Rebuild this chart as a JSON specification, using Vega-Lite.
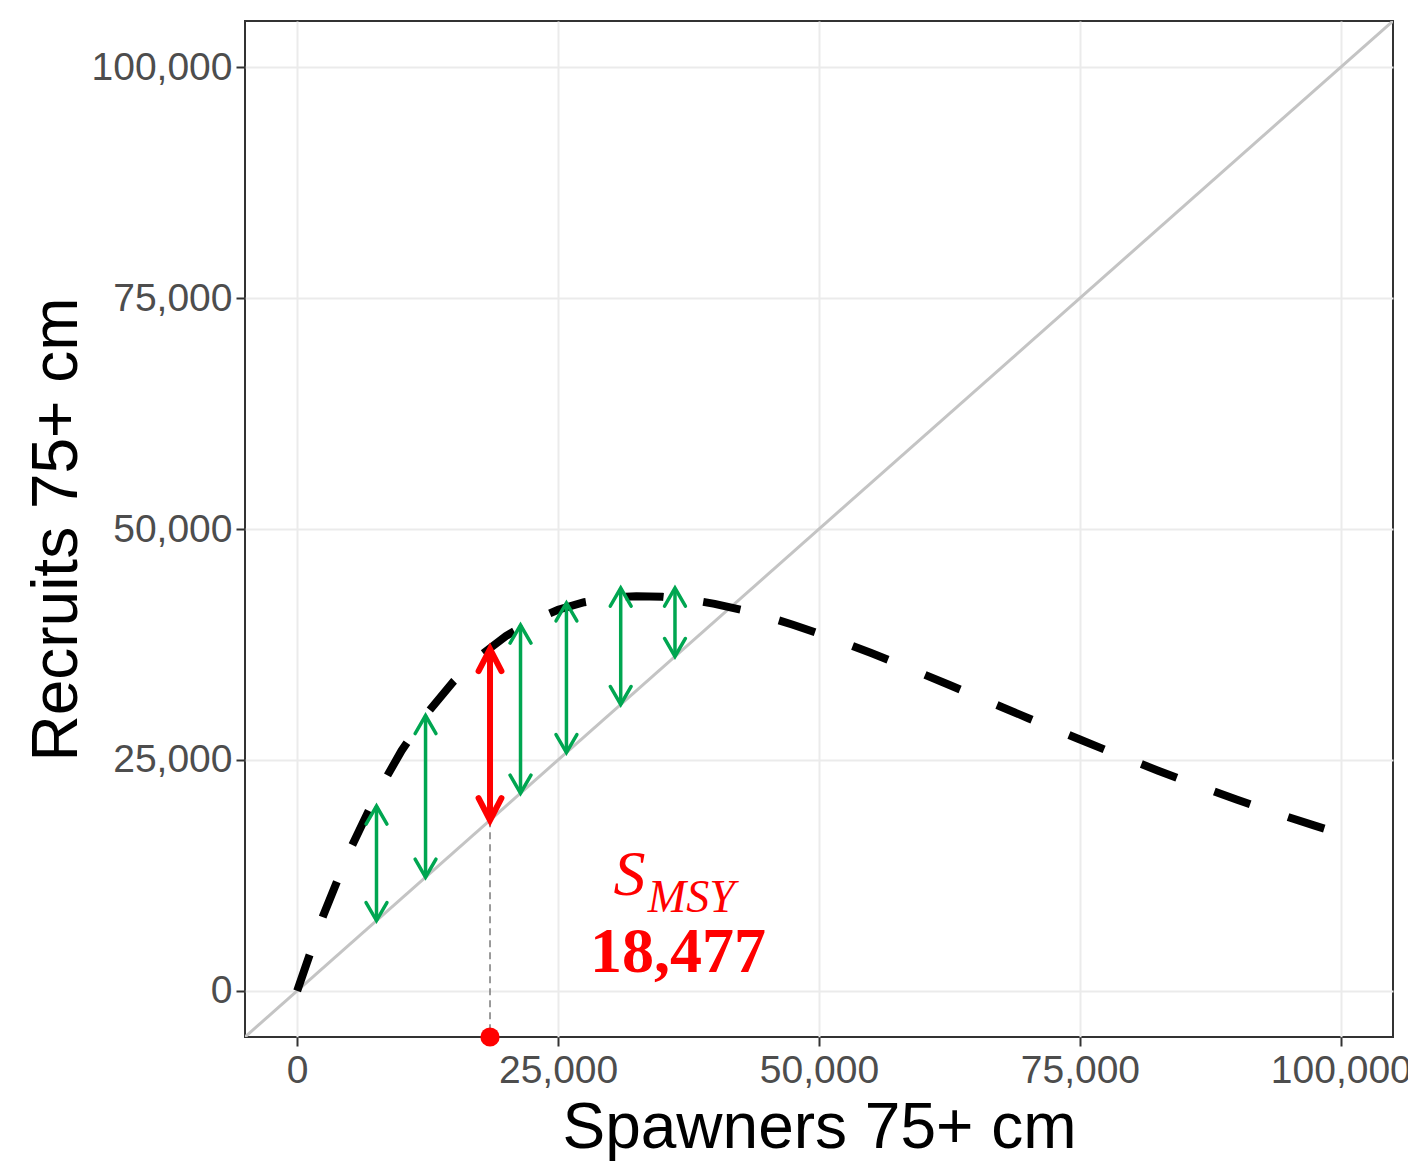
{
  "$schema": "https://vega.github.io/schema/vega-lite/v6.json",
  "width": 1148,
  "height": 1016,
  "autosize": {"type": "none"},
  "padding": {"left": 245, "top": 21, "right": 15, "bottom": 126},
  "background": "white",
  "config": {
    "view": {"stroke": "#333333", "strokeWidth": 2, "fill": "white"},
    "axis": {
      "grid": true,
      "gridColor": "#ebebeb",
      "gridWidth": 2,
      "domain": false,
      "tickColor": "#333333",
      "tickWidth": 2,
      "tickSize": 9,
      "labelFont": "Liberation Sans",
      "labelFontSize": 39,
      "labelColor": "#4d4d4d",
      "labelFlush": false,
      "labelOverlap": false,
      "titleFont": "Liberation Sans",
      "titleFontSize": 64,
      "titleFontWeight": "normal",
      "titleColor": "#000000"
    },
    "axisX": {"labelPadding": 5, "titlePadding": 6},
    "axisY": {"labelPadding": 4, "titlePadding": 2}
  },
  "datasets": {
    "replacement": [
      {"S": -5000, "R": -5000},
      {"S": 105000, "R": 105000}
    ],
    "ricker": [
      {"S": 0, "R": 0},
      {"S": 2500, "R": 8158},
      {"S": 5000, "R": 15125},
      {"S": 7500, "R": 21033},
      {"S": 10000, "R": 25999},
      {"S": 12500, "R": 30128},
      {"S": 15000, "R": 33515},
      {"S": 17500, "R": 36249},
      {"S": 20000, "R": 38402},
      {"S": 22500, "R": 40051},
      {"S": 25000, "R": 41255},
      {"S": 27500, "R": 42069},
      {"S": 30000, "R": 42545},
      {"S": 32500, "R": 42728},
      {"S": 35000, "R": 42658},
      {"S": 37500, "R": 42369},
      {"S": 40000, "R": 41898},
      {"S": 42500, "R": 41269},
      {"S": 45000, "R": 40508},
      {"S": 47500, "R": 39640},
      {"S": 50000, "R": 38681},
      {"S": 52500, "R": 37653},
      {"S": 55000, "R": 36567},
      {"S": 57500, "R": 35440},
      {"S": 60000, "R": 34284},
      {"S": 62500, "R": 33108},
      {"S": 65000, "R": 31920},
      {"S": 67500, "R": 30729},
      {"S": 70000, "R": 29543},
      {"S": 72500, "R": 28365},
      {"S": 75000, "R": 27203},
      {"S": 77500, "R": 26058},
      {"S": 80000, "R": 24938},
      {"S": 82500, "R": 23836},
      {"S": 85000, "R": 22769},
      {"S": 87500, "R": 21729},
      {"S": 90000, "R": 20719},
      {"S": 92500, "R": 19741},
      {"S": 95000, "R": 18797},
      {"S": 97500, "R": 17884},
      {"S": 100000, "R": 17005}
    ],
    "surplus": [
      {"S": 7600, "R": 20000},
      {"S": 12300, "R": 29800},
      {"S": 21400, "R": 39600},
      {"S": 25800, "R": 42000},
      {"S": 31000, "R": 43600},
      {"S": 36200, "R": 43600}
    ],
    "smsy": [
      {"S": 18477, "R": 37000}
    ]
  },
  "encoding": {
    "x": {
      "field": "S",
      "type": "quantitative",
      "title": "Spawners 75+ cm",
      "scale": {"domain": [-5000, 105000], "nice": false, "zero": false},
      "axis": {"values": [0, 25000, 50000, 75000, 100000], "format": ",.0f"}
    }
  },
  "layer": [
    {
      "data": {"name": "replacement"},
      "mark": {"type": "line", "color": "#c4c4c4", "strokeWidth": 3, "clip": true},
      "encoding": {
        "y": {
          "field": "R",
          "type": "quantitative",
          "title": "Recruits 75+ cm",
          "scale": {"domain": [-5000, 105000], "nice": false, "zero": false},
          "axis": {"values": [0, 25000, 50000, 75000, 100000], "format": ",.0f"}
        }
      }
    },
    {
      "data": {"name": "ricker"},
      "mark": {"type": "line", "color": "#000000", "strokeWidth": 8, "strokeDash": [38, 40], "strokeCap": "butt"},
      "encoding": {
        "y": {"field": "R", "type": "quantitative", "title": "Recruits 75+ cm"}
      }
    },
    {
      "data": {"name": "smsy"},
      "mark": {"type": "rule", "color": "#7a7a7a", "strokeWidth": 1.5, "strokeDash": [7, 5]},
      "encoding": {
        "y": {"field": "S", "type": "quantitative", "title": "Recruits 75+ cm"},
        "y2": {"datum": -5000}
      }
    },
    {
      "data": {"name": "surplus"},
      "mark": {"type": "rule", "color": "#00a651", "strokeWidth": 3.5},
      "encoding": {
        "y": {"field": "R", "type": "quantitative", "title": "Recruits 75+ cm"},
        "y2": {"field": "S"}
      }
    },
    {
      "data": {"name": "surplus"},
      "mark": {"type": "point", "shape": "M-0.58,1L0,0L0.58,1", "filled": false, "size": 1296, "strokeWidth": 3.5, "color": "#00a651", "opacity": 1, "strokeCap": "round"},
      "encoding": {
        "y": {"field": "R", "type": "quantitative", "title": "Recruits 75+ cm"}
      }
    },
    {
      "data": {"name": "surplus"},
      "mark": {"type": "point", "shape": "M-0.58,-1L0,0L0.58,-1", "filled": false, "size": 1296, "strokeWidth": 3.5, "color": "#00a651", "opacity": 1, "strokeCap": "round"},
      "encoding": {
        "y": {"field": "S", "type": "quantitative", "title": "Recruits 75+ cm"}
      }
    },
    {
      "data": {"name": "smsy"},
      "mark": {"type": "rule", "color": "#ff0000", "strokeWidth": 6},
      "encoding": {
        "y": {"field": "R", "type": "quantitative", "title": "Recruits 75+ cm"},
        "y2": {"field": "S"}
      }
    },
    {
      "data": {"name": "smsy"},
      "mark": {"type": "point", "shape": "M-0.52,1L0,0L0.52,1", "filled": false, "size": 1936, "strokeWidth": 6, "color": "#ff0000", "opacity": 1, "strokeCap": "round"},
      "encoding": {
        "y": {"field": "R", "type": "quantitative", "title": "Recruits 75+ cm"}
      }
    },
    {
      "data": {"name": "smsy"},
      "mark": {"type": "point", "shape": "M-0.52,-1L0,0L0.52,-1", "filled": false, "size": 1936, "strokeWidth": 6, "color": "#ff0000", "opacity": 1, "strokeCap": "round"},
      "encoding": {
        "y": {"field": "S", "type": "quantitative", "title": "Recruits 75+ cm"}
      }
    },
    {
      "data": {"name": "smsy"},
      "mark": {"type": "point", "shape": "circle", "filled": true, "size": 370, "color": "#ff0000", "opacity": 1},
      "encoding": {
        "y": {"datum": -5000, "type": "quantitative", "title": "Recruits 75+ cm"}
      }
    },
    {
      "data": {"name": "smsy"},
      "mark": {"type": "text", "text": "S", "font": "Liberation Serif", "fontStyle": "italic", "fontSize": 64, "color": "#ff0000", "align": "left", "baseline": "alphabetic"},
      "encoding": {
        "x": {"datum": 30300, "type": "quantitative", "title": "Spawners 75+ cm"},
        "y": {"datum": 10400, "type": "quantitative", "title": "Recruits 75+ cm"}
      }
    },
    {
      "data": {"name": "smsy"},
      "mark": {"type": "text", "text": "MSY", "font": "Liberation Serif", "fontStyle": "italic", "fontSize": 46, "color": "#ff0000", "align": "left", "baseline": "alphabetic"},
      "encoding": {
        "x": {"datum": 33600, "type": "quantitative", "title": "Spawners 75+ cm"},
        "y": {"datum": 8550, "type": "quantitative", "title": "Recruits 75+ cm"}
      }
    },
    {
      "data": {"name": "smsy"},
      "mark": {"type": "text", "font": "Liberation Serif", "fontWeight": "bold", "fontSize": 64, "color": "#ff0000", "align": "center", "baseline": "alphabetic"},
      "encoding": {
        "x": {"datum": 36500, "type": "quantitative", "title": "Spawners 75+ cm"},
        "y": {"datum": 2060, "type": "quantitative", "title": "Recruits 75+ cm"},
        "text": {"field": "S", "type": "quantitative", "format": ","}
      }
    }
  ]
}
